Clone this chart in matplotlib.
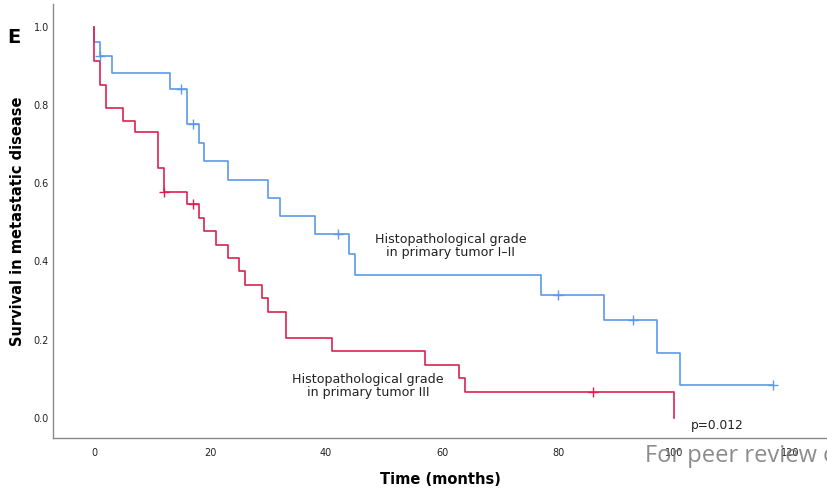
import numpy as np
import matplotlib
matplotlib.use("Agg")
import matplotlib.pyplot as plt

# Kaplan-Meier steps (time in months, survival)
grade12_t = [0, 0, 1, 3, 13, 16, 18, 19, 23, 30, 32, 38, 44, 45, 77, 88, 97, 101]
grade12_s = [1.0, 0.962, 0.924, 0.881, 0.840, 0.751, 0.703, 0.657, 0.609, 0.562,
             0.516, 0.470, 0.418, 0.366, 0.314, 0.251, 0.167, 0.084]
grade12_end = 117
grade12_censor = [1, 15, 17, 42, 80, 93, 117]

grade3_t = [0, 0, 1, 2, 5, 7, 11, 12, 16, 18, 19, 21, 23, 25, 26, 29, 30, 33,
            41, 57, 63, 64, 100]
grade3_s = [1.0, 0.913, 0.852, 0.792, 0.760, 0.730, 0.639, 0.577, 0.546, 0.511,
            0.477, 0.443, 0.408, 0.375, 0.341, 0.307, 0.272, 0.205, 0.170, 0.136,
            0.102, 0.067, 0.0]
grade3_end = 100
grade3_censor = [12, 17, 86]

x_ticks = [0, 20, 40, 60, 80, 100, 120]
y_ticks = [0.0, 0.2, 0.4, 0.6, 0.8, 1.0]

blue = "#5c9ae6"
red = "#dc2151"


def surv_at(times, surv, t):
    # value of the step function just after time t
    idx = np.searchsorted(times, t, side="right") - 1
    return surv[idx]


fig = plt.figure(figsize=(8.27, 4.94), dpi=100)
ax = fig.add_axes([0.0641, 0.1134, 0.936, 0.8785])


def draw_curve(times, surv, end, censor, color):
    t = list(times) + [end]
    s = list(surv) + [surv[-1]]
    ax.step(t, s, where="post", color=color, lw=1.2, zorder=3)
    cy = [surv_at(times, surv, c) for c in censor]
    ax.plot(censor, cy, ls="none", marker="+", ms=7, mew=1.0, color=color, zorder=4)


draw_curve(grade12_t, grade12_s, grade12_end, grade12_censor, blue)
draw_curve(grade3_t, grade3_s, grade3_end, grade3_censor, red)

ax.set_xlim(-7.1, 126.4)
ax.set_ylim(-0.051, 1.058)
ax.set_xticks(x_ticks)
ax.set_yticks(y_ticks)
ax.set_yticklabels(["%.1f" % v for v in y_ticks])
ax.tick_params(length=0, labelsize=7, colors="#222222")
ax.tick_params(axis="x", pad=7)
ax.tick_params(axis="y", pad=3)

for side in ["top", "right"]:
    ax.spines[side].set_visible(False)
for side in ["left", "bottom"]:
    ax.spines[side].set_color("#8a8a8a")
    ax.spines[side].set_linewidth(1.0)

ax.set_xlabel("Time (months)", fontsize=10.5, fontweight="bold", labelpad=10)
ax.set_ylabel("Survival in metastatic disease", fontsize=10.5, fontweight="bold", labelpad=6)

ax.text(61.5, 0.44, "Histopathological grade\nin primary tumor I–II", ha="center",
        va="center", fontsize=9.1, color="#222222", linespacing=1.0)
ax.text(47.2, 0.083, "Histopathological grade\nin primary tumor III", ha="center",
        va="center", fontsize=9.1, color="#222222", linespacing=1.0)
ax.text(107.5, -0.02, "p=0.012", ha="center", va="center", fontsize=8.8, color="#222222")

fig.text(0.009, 0.925, "E", fontsize=14, fontweight="bold", ha="left", va="center")
fig.text(0.78, 0.077, "For peer review only", fontsize=17, color="#777777",
         ha="left", va="center", alpha=0.85, family="Open Sans")

fig.savefig("out.png", dpi=100)
